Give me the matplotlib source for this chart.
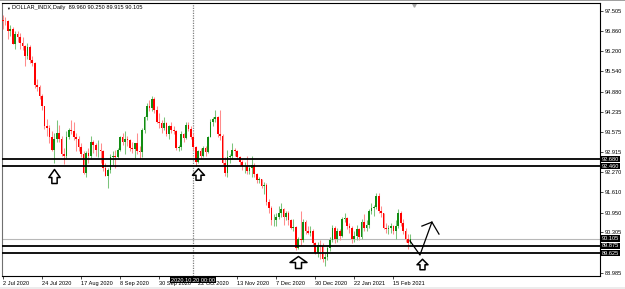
import matplotlib
matplotlib.use("Agg")
import matplotlib.pyplot as plt
import matplotlib.transforms as mtransforms
from matplotlib.path import Path
from matplotlib.patches import Rectangle

plt.rcParams['font.family'] = ['Liberation Sans', 'DejaVu Sans']

# ---- DOLLAR_INDX daily bars, 2 Jul 2020 .. 24 Feb 2021 (bar number = list index)
opens = [
    # Jul
    97.22, 97.18, 97.17, 96.85, 96.92, 96.43, 96.75, 96.66, 96.46, 96.38, 96.04,
    96.35, 95.90, 95.82, 95.10, 95.04, 94.75, 94.42, 93.75, 93.70, 93.40, 93.00,
    # Aug
    93.35, 93.55, 93.35, 92.85, 92.78, 93.40, 93.62, 93.60, 93.42, 93.35, 93.08,
    92.85, 92.25, 92.88, 92.80, 93.25, 93.15, 92.98, 93.00, 92.95, 92.40,
    # Sep
    92.15, 92.33, 92.75, 92.80, 92.75, 93.00, 93.40, 93.25, 93.35, 93.32, 93.05,
    93.02, 93.20, 92.95, 92.93, 93.65, 94.05, 94.40, 94.35, 94.65, 94.28, 93.90,
    # Oct
    93.85, 93.70, 93.85, 93.50, 93.75, 93.65, 93.60, 93.05, 93.08, 93.52, 93.38,
    93.80, 93.68, 93.42, 93.08, 92.60, 92.95, 92.78, 93.05, 92.92, 93.42, 93.90,
    # Nov
    94.00, 94.05, 93.50, 93.45, 92.55, 92.25, 92.75, 92.78, 93.00, 92.95, 92.75,
    92.60, 92.45, 92.48, 92.30, 92.40, 92.50, 92.20, 92.00, 92.05, 91.80,
    # Dec
    91.85, 91.30, 91.10, 90.70, 90.72, 90.80, 90.95, 91.05, 90.80, 90.95, 90.70,
    90.45, 90.48, 89.80, 90.10, 90.05, 90.65, 90.35, 90.30, 90.35, 89.95, 89.65,
    # Jan
    89.90, 89.85, 89.45, 89.50, 89.80, 90.05, 90.45, 90.10, 90.35, 90.20, 90.75,
    90.78, 90.50, 90.45, 90.10, 90.20, 90.40, 90.15, 90.65, 90.45,
    # Feb
    90.55, 91.00, 91.10, 91.12, 91.50, 91.00, 90.95, 90.45, 90.40, 90.45, 90.50,
    90.35, 90.50, 90.95, 90.60, 90.35, 90.10, 89.960,
]
highs = [
    97.36, 97.30, 97.20, 97.05, 96.98, 96.85, 96.84, 96.78, 96.67, 96.40, 96.45,
    96.40, 96.05, 95.86, 95.30, 95.10, 94.82, 94.42, 94.00, 93.80, 93.60, 93.55,
    93.95, 93.80, 93.45, 93.05, 93.60, 93.70, 93.95, 93.90, 93.55, 93.45, 93.20,
    92.95, 92.95, 93.05, 93.45, 93.30, 93.20, 93.30, 93.20, 93.00, 92.55,
    92.40, 92.85, 92.95, 93.00, 93.05, 93.45, 93.55, 93.60, 93.45, 93.35, 93.25,
    93.20, 93.55, 93.10, 93.70, 94.10, 94.50, 94.60, 94.75, 94.70, 94.40, 94.20,
    93.95, 94.05, 93.90, 93.80, 93.90, 93.75, 93.65, 93.15, 93.60, 93.55, 93.90,
    93.90, 93.75, 93.55, 93.10, 93.00, 93.05, 93.10, 93.10, 93.45, 94.00, 94.05,
    94.30, 94.10, 94.30, 93.50, 92.75, 92.98, 92.85, 93.20, 93.05, 93.00, 92.80,
    92.65, 92.60, 92.80, 92.50, 92.80, 92.55, 92.25, 92.10, 92.05, 91.95,
    91.90, 91.40, 91.15, 90.90, 90.95, 91.15, 91.25, 91.10, 91.00, 91.00, 90.75,
    90.75, 90.50, 90.15, 91.00, 90.75, 90.70, 90.50, 90.50, 90.40, 90.00, 90.00,
    90.05, 89.95, 89.65, 89.90, 90.15, 90.55, 90.50, 90.45, 90.40, 90.80, 90.95,
    90.80, 90.60, 90.50, 90.35, 90.55, 90.45, 90.75, 90.90, 90.70,
    91.05, 91.25, 91.20, 91.60, 91.60, 91.15, 90.95, 90.60, 90.55, 90.60, 90.55,
    90.70, 91.05, 91.00, 90.75, 90.45, 90.25, 90.250,
]
lows = [
    96.93, 97.05, 96.60, 96.68, 96.42, 96.28, 96.50, 96.26, 96.25, 95.73, 95.95,
    95.83, 95.70, 95.00, 94.90, 94.65, 94.30, 93.66, 93.45, 93.20, 92.95, 92.55,
    93.25, 93.25, 92.78, 92.52, 92.70, 93.35, 93.50, 93.30, 92.95, 92.95, 92.75,
    92.20, 92.12, 92.55, 92.70, 92.90, 92.80, 92.75, 92.55, 92.30, 92.15,
    91.75, 92.25, 92.50, 92.40, 92.70, 92.95, 93.15, 92.85, 93.12, 92.95, 92.90,
    92.70, 92.85, 92.70, 92.75, 93.55, 93.95, 94.25, 94.25, 94.20, 93.85, 93.70,
    93.55, 93.65, 93.45, 93.35, 93.55, 93.50, 93.00, 92.95, 93.00, 93.25, 93.35,
    93.60, 93.35, 93.00, 92.47, 92.55, 92.70, 92.75, 92.80, 92.90, 93.40, 93.75,
    93.90, 93.40, 93.30, 92.50, 92.15, 92.12, 92.55, 92.70, 92.80, 92.70, 92.45,
    92.35, 92.25, 92.20, 92.20, 92.10, 92.10, 91.90, 91.90, 91.75, 91.55,
    91.20, 90.95, 90.55, 90.50, 90.50, 90.75, 90.80, 90.55, 90.70, 90.55, 90.40,
    90.35, 89.72, 89.75, 89.90, 90.00, 90.25, 90.25, 90.20, 89.90, 89.60, 89.50,
    89.45, 89.35, 89.20, 89.40, 89.70, 90.00, 89.95, 90.00, 90.05, 90.15, 90.65,
    90.40, 90.30, 89.95, 90.00, 90.05, 90.05, 90.10, 90.35, 90.35,
    90.45, 90.90, 90.85, 91.05, 90.95, 90.80, 90.40, 90.30, 90.25, 90.30, 90.25,
    90.10, 90.45, 90.50, 90.25, 90.00, 89.75, 89.915,
]
closes = [
    97.18, 97.17, 96.85, 96.92, 96.43, 96.75, 96.66, 96.46, 96.38, 96.04, 96.35,
    95.90, 95.82, 95.10, 95.04, 94.75, 94.42, 93.75, 93.70, 93.40, 93.00, 93.35,
    93.55, 93.35, 92.85, 92.78, 93.40, 93.62, 93.60, 93.42, 93.35, 93.08, 92.85,
    92.25, 92.88, 92.80, 93.25, 93.15, 92.98, 93.00, 92.95, 92.40, 92.15,
    92.33, 92.75, 92.80, 92.75, 93.00, 93.40, 93.25, 93.35, 93.32, 93.05, 93.02,
    93.20, 92.95, 92.93, 93.65, 94.05, 94.40, 94.35, 94.65, 94.28, 93.90, 93.85,
    93.70, 93.85, 93.50, 93.75, 93.65, 93.60, 93.05, 93.08, 93.52, 93.38, 93.80,
    93.68, 93.42, 93.08, 92.60, 92.95, 92.78, 93.05, 92.92, 93.42, 93.90, 94.00,
    94.05, 93.50, 93.45, 92.55, 92.25, 92.75, 92.78, 93.00, 92.95, 92.75, 92.60,
    92.45, 92.48, 92.30, 92.40, 92.50, 92.20, 92.00, 92.05, 91.80, 91.85,
    91.30, 91.10, 90.70, 90.72, 90.80, 90.95, 91.05, 90.80, 90.95, 90.70, 90.45,
    90.48, 89.80, 90.10, 90.05, 90.65, 90.35, 90.30, 90.35, 89.95, 89.65, 89.90,
    89.85, 89.45, 89.50, 89.80, 90.05, 90.45, 90.10, 90.35, 90.20, 90.75, 90.78,
    90.50, 90.45, 90.10, 90.20, 90.40, 90.15, 90.65, 90.45, 90.55,
    91.00, 91.10, 91.12, 91.50, 91.00, 90.95, 90.45, 90.40, 90.45, 90.50, 90.35,
    90.50, 90.95, 90.60, 90.35, 90.10, 89.96, 90.105,
]

date_pos = [0, 16, 32, 48, 64, 80, 96, 112, 128, 144, 160]
date_labels = ['2 Jul 2020', '24 Jul 2020', '17 Aug 2020', '8 Sep 2020', '30 Sep 2020',
               '22 Oct 2020', '13 Nov 2020', '7 Dec 2020', '30 Dec 2020',
               '22 Jan 2021', '15 Feb 2021']
# 89.645 sits under the 89.625 level tag on the chart, so it is not listed
price_ticks = [88.985, 90.305, 90.950, 91.610, 92.270, 92.915,
               93.575, 94.235, 94.880, 95.540, 96.200, 96.860, 97.505]

levels = [92.680, 92.460, 89.875, 89.625]
bid = 90.105
cursor_bar = 78          # 2020.10.20
cursor_text = '2020.10.20 00:00'
title = 'DOLLAR_INDX,Daily  89.960 90.250 89.915 90.105'

# hollow up-arrows (bar, price) and the hand drawn projection
arrow_bar = [20.7, 79.9, 121.0, 171.9]
arrow_price = [92.14, 92.20, 89.35, 89.28]
swing_bar = [166.8, 170.9, 175.8]
swing_price = [90.03, 89.57, 90.64]
head_bar = [171.7, 175.8, 178.7]
head_price = [90.51, 90.64, 90.25]

# ---------------------------------------------------------------------------
W, H = 625, 289
fig = plt.figure(figsize=(W / 100, H / 100), dpi=100)
ax = fig.add_axes([2.3 / W, 13 / H, 597.7 / W, 273 / H])
ax.set_xlim(-0.29, 244.7)
ax.set_ylim(88.887, 97.765)

fs = 4.1
bars = list(range(len(closes)))
up = [c >= o for o, c in zip(opens, closes)]
wick_col = ['#7cc47c' if u else '#ff8c8c' for u in up]
body_col = ['#128c12' if u else '#ff0000' for u in up]
bottoms = [min(o, c) for o, c in zip(opens, closes)]
heights = [max(abs(c - o), 0.015) for o, c in zip(opens, closes)]

ax.vlines(bars, lows, highs, colors=wick_col, lw=0.75, zorder=3)
ax.bar(bars, heights, bottom=bottoms, width=0.7, color=body_col, lw=0, zorder=4)

for lv in levels:
    ax.axhline(lv, color='black', lw=1.3, zorder=5)
ax.axhline(bid, color='#b8b8b8', lw=0.8, zorder=2)
ax.axvline(cursor_bar, color='#808080', lw=0.9, ls=(0, (1, 1)), zorder=2)

# arrows
def up_arrow(w, h, head, shaft):
    top, bot = h / 2, -h / 2
    base = top - head
    verts = [(0, top), (w / 2, base), (shaft / 2, base), (shaft / 2, bot),
             (-shaft / 2, bot), (-shaft / 2, base), (-w / 2, base), (0, top)]
    return Path(verts, closed=True), max(w, h) * 0.72

arrow_shapes = [(11.3, 14, 8, 5.3), (12, 11.5, 6.5, 5), (17, 12, 6, 6), (11, 10.5, 5.5, 5)]
for b, p, shp in zip(arrow_bar, arrow_price, arrow_shapes):
    path, ms = up_arrow(*shp)
    ax.plot([b], [p], marker=path, ms=ms, mfc='white', mec='black', mew=1.1,
            ls='none', zorder=6, clip_on=False)

ax.plot(swing_bar, swing_price, color='black', lw=0.9, zorder=6)
ax.plot(head_bar, head_price, color='black', lw=0.9, zorder=6)

# axes look
for s in ax.spines.values():
    s.set_linewidth(0.8)
    s.set_color('black')
ax.spines['left'].set_color('#707070')

ax.yaxis.tick_right()
ax.set_yticks(price_ticks, [f'{v:.3f}' for v in price_ticks])
ax.tick_params(axis='y', length=2, width=0.5, pad=1.5, labelsize=fs)
ax.set_xticks(date_pos)
ax.set_xticklabels(date_labels, ha='left')
ax.tick_params(axis='x', length=2, width=0.5, pad=1.5, labelsize=fs)

trans = mtransforms.blended_transform_factory(ax.transAxes, ax.transData)
for lv in levels + [bid]:
    ax.text(1.003, lv, f'{lv:.3f}', transform=trans, ha='left', va='center',
            fontsize=fs, color='white', zorder=8, clip_on=False,
            bbox=dict(boxstyle='square,pad=0.1', fc='black', ec='none'))

xtrans = mtransforms.blended_transform_factory(ax.transData, ax.transAxes)
ax.text(cursor_bar, -0.006, cursor_text, transform=xtrans, ha='center', va='top',
        fontsize=fs, color='white', zorder=8, clip_on=False,
        bbox=dict(boxstyle='square,pad=0.15', fc='black', ec='none'))

# chart shift marker
ax.plot([168.5], [0.992], transform=xtrans, marker='v', ms=2.5, color='#a8a8a8',
        ls='none', clip_on=False)

fig.text(6 / W, 1 - 8.5 / H, '\u25bc', fontsize=2.8, va='center', color='black')
fig.text(12 / W, 1 - 8 / H, title, fontsize=4.1, va='center', color='black')

fig.add_artist(Rectangle((0, 1 - 1.2 / H), 1, 1.2 / H, transform=fig.transFigure,
                         color='#a0a0a0', lw=0))
fig.add_artist(Rectangle((0, 0), 1, 2.5 / H, transform=fig.transFigure,
                         color='#ececec', lw=0))

fig.savefig('out.png', dpi=100)
